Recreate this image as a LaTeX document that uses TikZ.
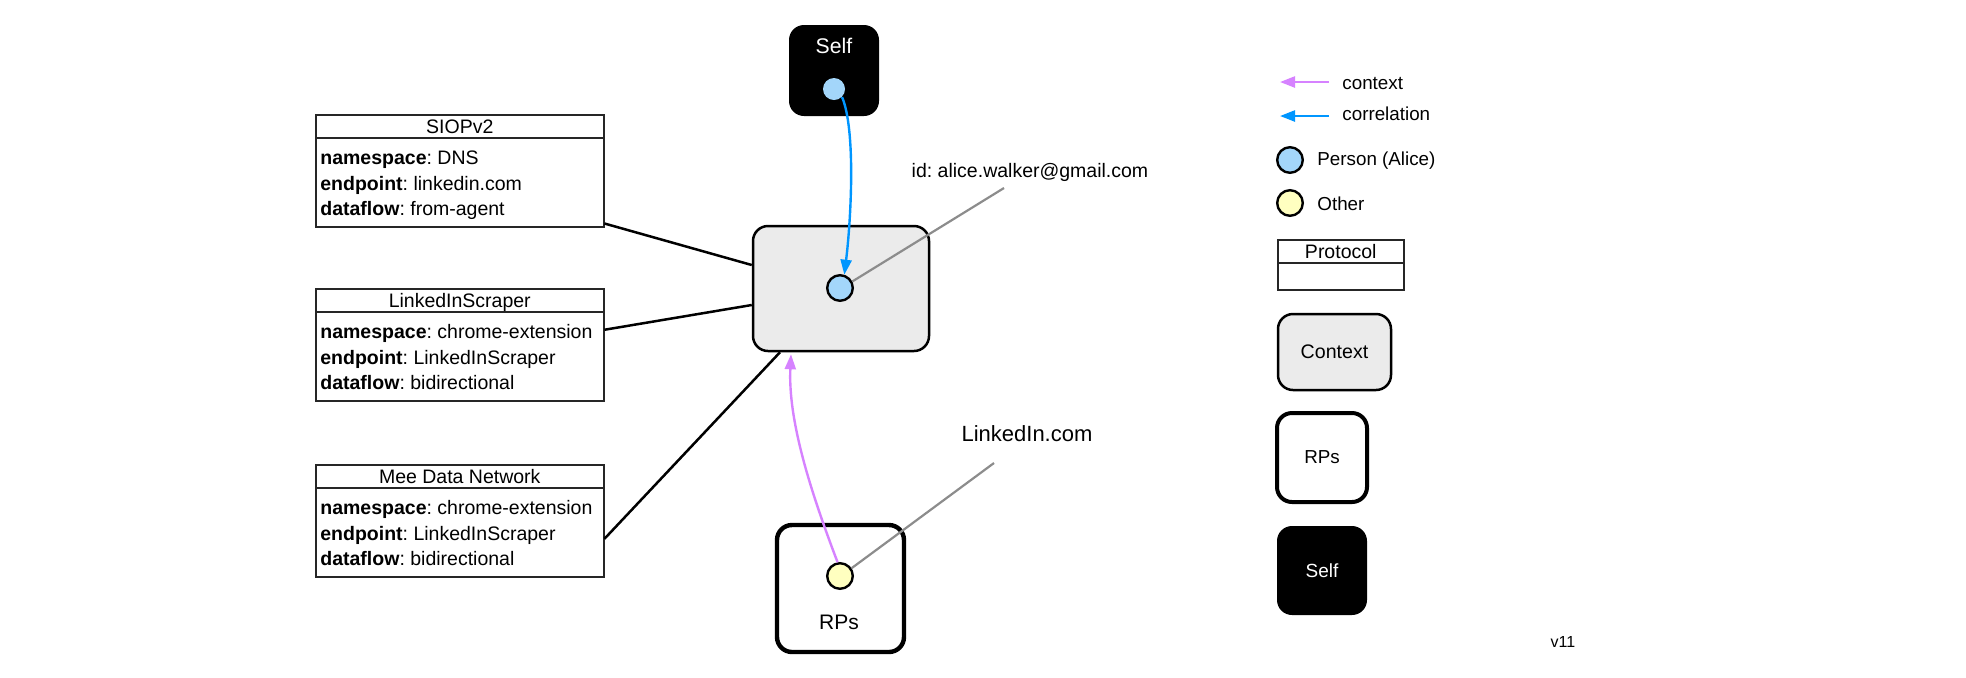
\documentclass[tikz,border=0pt]{standalone}
\usepackage{fontspec}
\setmainfont{Liberation Sans}
\usetikzlibrary{arrows.meta,calc}
\frenchspacing
\definecolor{ctxfill}{RGB}{235,235,235}
\definecolor{alicefill}{RGB}{163,214,250}
\definecolor{otherfill}{RGB}{255,255,192}
\definecolor{purp}{RGB}{214,130,255}
\definecolor{corrblue}{RGB}{0,150,255}
\definecolor{leadgray}{RGB}{140,140,140}
\newcommand{\protocolcard}[6]{%
  \node[protobox] (#1) at #2 {};
  \draw[protoline] ($(#1.north west)+(0,24)$) -- ($(#1.north east)+(0,24)$);
  \node[txt] (#1-title) at ($(#1.north)+(0,12)$) {#3};
  \node[txt, anchor=west] (#1-r1) at ($(#1.north west)+(5,43)$) {#4};
  \node[txt, anchor=west] (#1-r2) at ($(#1.north west)+(5,69)$) {#5};
  \node[txt, anchor=west] (#1-r3) at ($(#1.north west)+(5,94)$) {#6};
}
\begin{document}
\begin{tikzpicture}[x=0.5pt,y=-0.5pt,
  txt/.style={font=\fontsize{9.75pt}{11pt}\selectfont, inner sep=0pt, text height=0.72em, text depth=0pt},
  legtxt/.style={font=\fontsize{9.4pt}{11pt}\selectfont, inner sep=0pt, text height=0.72em, text depth=0pt, anchor=west},
  protobox/.style={draw=black!85, line width=0.75pt, minimum width=144pt, minimum height=56pt, inner sep=0pt, anchor=north west},
  protoline/.style={draw=black!85, line width=0.75pt},
  ctxbox/.style={draw, line width=1.25pt, fill=ctxfill, rounded corners=7.5pt, inner sep=0pt, font=\fontsize{9.8pt}{11pt}\selectfont},
  rpsbox/.style={draw, line width=2.2pt, fill=white, rounded corners=7.5pt, inner sep=0pt, font=\fontsize{9.4pt}{11pt}\selectfont},
  selfbox/.style={fill=black, rounded corners=7.5pt, inner sep=0pt, text=white, font=\fontsize{9.5pt}{11pt}\selectfont},
  alice/.style={circle, draw, line width=1.2pt, fill=alicefill, minimum size=12.8pt, inner sep=0pt},
  other/.style={circle, draw, line width=1.2pt, fill=otherfill, minimum size=12.8pt, inner sep=0pt},
  link/.style={line width=1.25pt, draw=black},
  lead/.style={line width=1.1pt, draw=leadgray},
  ctxarrow/.style={line width=1.2pt, draw=purp, -{Triangle[length=7.5pt,width=5.5pt,fill=purp]}},
  corrarrow/.style={line width=1.2pt, draw=corrblue, -{Triangle[length=7.5pt,width=5.5pt,fill=corrblue]}},
]
\useasboundingbox (0,0) rectangle (1966,677);

% protocol cards
\protocolcard{siop}{(315,114)}{SIOPv2}{\textbf{namespace}: DNS}{\textbf{endpoint}: linkedin.com}{\textbf{dataflow}: from-agent}
\protocolcard{ls}{(315,288)}{LinkedInScraper}{\textbf{namespace}: chrome-extension}{\textbf{endpoint}: LinkedInScraper}{\textbf{dataflow}: bidirectional}
\protocolcard{mee}{(315,464)}{Mee Data Network}{\textbf{namespace}: chrome-extension}{\textbf{endpoint}: LinkedInScraper}{\textbf{dataflow}: bidirectional}

% context
\node[ctxbox, minimum width=88pt, minimum height=62.5pt] (ctx) at (841,288.5) {};
\node[alice] (alice) at (840,288) {};

% self
\node[selfbox, minimum width=45pt, minimum height=45.5pt] (self) at (834,70.5) {};
\node[inner sep=0pt, text=white, font=\fontsize{10.6pt}{12pt}\selectfont, text height=0.72em, text depth=0pt] (selflbl) at (834,46) {Self};
\node[circle, fill=alicefill, minimum size=11pt, inner sep=0pt] (selfdot) at (834,89) {};

% RPs
\node[rpsbox, minimum width=63.5pt, minimum height=63.5pt] (rps) at (840.5,588.5) {};
\node[inner sep=0pt, font=\fontsize{10.5pt}{12pt}\selectfont, text height=0.72em, text depth=0pt] (rpslbl) at (839,622) {RPs};
\node[other] (other) at (840,576) {};

% connectors
\draw[link] ([yshift=2pt]siop.south east) -- ([yshift=11.75pt]ctx.west);
\draw[link] ([yshift=7.5pt]ls.east) -- ([yshift=-8.25pt]ctx.west);
\draw[link] ([yshift=-9pt]mee.east) -- ([xshift=-30.5pt]ctx.south);

\draw[corrarrow] (selfdot.-45) .. controls (856,130) and (851,220) .. (alice.72);
\draw[ctxarrow] (other.100) .. controls (810,490) and (788,420) .. ([xshift=-25pt,yshift=-1pt]ctx.south);

\coordinate (idend) at (1004,188);
\coordinate (lkend) at (994,463);
\draw[lead] (alice.28) -- (idend);
\draw[lead] (other.34) -- (lkend);

\node[txt] (idlbl) at (1030,170) {id: alice.walker@gmail.com};
\node[inner sep=0pt, font=\fontsize{11pt}{13pt}\selectfont, text height=0.72em, text depth=0pt] (lklbl) at (1027,434) {LinkedIn.com};

% legend
\coordinate (lca) at (1329,82);
\coordinate (lcb) at (1280,82);
\draw[ctxarrow] (lca) -- (lcb);
\node[legtxt] (lctxt) at (1342,82) {context};
\coordinate (lra) at (1329,116);
\coordinate (lrb) at (1280,116);
\draw[corrarrow] (lra) -- (lrb);
\node[legtxt] (lrtxt) at (1342,113) {correlation};
\node[alice] (lalice) at (1290,160) {};
\node[legtxt] (lalicetxt) at (1317,158) {Person (Alice)};
\node[other] (lother) at (1290,203) {};
\node[legtxt] (lothertxt) at (1317,203) {Other};
\node[protobox, minimum width=63pt, minimum height=25pt] (lproto) at (1277,239) {};
\draw[protoline] ($(lproto.north west)+(0,24)$) -- ($(lproto.north east)+(0,24)$);
\node[txt] (lprototxt) at ($(lproto.north)+(0,12)$) {Protocol};
\node[ctxbox, minimum width=56.5pt, minimum height=38pt] (lctx) at (1334.5,352) {Context};
\node[rpsbox, line width=2pt, minimum width=45pt, minimum height=44.5pt] (lrps) at (1322,457.5) {RPs};
\node[selfbox, minimum width=45pt, minimum height=44.5pt] (lself) at (1322,570.5) {Self};
\node[inner sep=0pt, font=\fontsize{8pt}{10pt}\selectfont] (ver) at (1563,642) {v11};
\end{tikzpicture}
\end{document}
